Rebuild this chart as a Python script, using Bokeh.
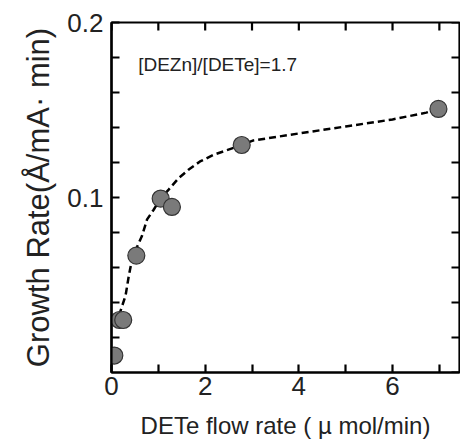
import math
from bokeh.plotting import figure
from bokeh.models import Range1d, FixedTicker, ColumnDataSource
from bokeh.embed import file_html
from bokeh.resources import INLINE

# Data points (DETe flow rate, growth rate)
flow = [0.06, 0.17, 0.25, 0.53, 1.05, 1.29, 2.78, 6.98]
rate = [0.0097, 0.030, 0.030, 0.0668, 0.0994, 0.0946, 0.130, 0.1506]

# Dashed guide curve
curve_x = [0.16, 0.30, 0.37, 0.44, 0.55, 0.65, 0.76, 0.90, 1.05, 1.22, 1.43, 1.65, 1.89, 2.18, 2.46, 2.78, 3.03, 4.0, 5.0, 6.0, 6.72, 6.98]
curve_y = [0.0326, 0.0439, 0.0553, 0.0648, 0.072, 0.078, 0.0875, 0.093, 0.0995, 0.1045, 0.111, 0.116, 0.1206, 0.1244, 0.127, 0.130, 0.1326, 0.1366, 0.1406, 0.1446, 0.1485, 0.1506]

x_labeled = [0, 2, 4, 6]
x_other = [1, 3, 5, 7]
y_labeled = [0.1, 0.2]
y_other = [0.02, 0.04, 0.06, 0.08, 0.12, 0.14, 0.16, 0.18]

note_text = ["[DEZn]/[DETe]=1.7"]
note_x = [0.57]
note_y = [0.176]

X0, X1 = 0, 7.43
Y0, Y1 = 0, 0.2

LW = 2.2

p = figure(width=460, height=441, output_backend="svg", toolbar_location=None,
           x_range=Range1d(X0, X1), y_range=Range1d(Y0, Y1),
           min_border_left=111, min_border_right=1, min_border_top=22, min_border_bottom=10)
p.grid.visible = False
p.outline_line_color = "black"
p.outline_line_width = LW


def style(ax):
    ax.axis_line_color = "black"
    ax.axis_line_width = LW
    ax.major_tick_line_color = "black"
    ax.minor_tick_line_color = "black"
    ax.major_tick_line_width = LW
    ax.minor_tick_line_width = LW
    ax.major_tick_in = 8
    ax.major_tick_out = 0
    ax.minor_tick_in = 8
    ax.minor_tick_out = 0
    ax.major_label_text_font_size = "26px"
    ax.major_label_text_color = "#222222"
    ax.axis_label_text_font_style = "normal"
    ax.axis_label_text_color = "#222222"


xb = p.xaxis[0]
xb.ticker = FixedTicker(ticks=x_labeled, minor_ticks=x_other)
xb.axis_label = "DETe flow rate ( \u00b5 mol/min)"
style(xb)
xb.major_label_standoff = 4
xb.axis_label_text_font_size = "24px"
xb.axis_label_standoff = 14

yl = p.yaxis[0]
yl.ticker = FixedTicker(ticks=y_labeled, minor_ticks=y_other)
yl.axis_label = "Growth Rate(\u00c5/mA\u00b7 min)"
style(yl)
yl.major_label_standoff = 8
yl.axis_label_text_font_size = "31px"
yl.axis_label_standoff = 8

# inward ticks on the top and right edges (dash markers centred on the edge, half clipped)
xt_all = x_labeled + x_other
yt_all = [0.0] + y_labeled + y_other
src_top = ColumnDataSource(dict(x=xt_all, y=[Y1] * len(xt_all)))
src_right = ColumnDataSource(dict(x=[X1] * len(yt_all), y=yt_all))
p.scatter("x", "y", source=src_top, marker="dash", angle=math.pi / 2, size=16,
          line_color="black", line_width=LW)
p.scatter("x", "y", source=src_right, marker="dash", size=16,
          line_color="black", line_width=LW)

src_c = ColumnDataSource(dict(x=curve_x, y=curve_y))
p.line("x", "y", source=src_c, line_color="black", line_width=2.5, line_dash="7 4")

src = ColumnDataSource(dict(x=flow, y=rate))
p.scatter("x", "y", source=src, size=17, fill_color="#7a7a7a", line_color="#333333", line_width=1.2)

src_t = ColumnDataSource(dict(x=note_x, y=note_y, t=note_text))
p.text("x", "y", text="t", source=src_t, text_font_size="19px",
       text_color="#222222", text_align="left", text_baseline="middle")

open("out.html", "w").write(file_html(p, INLINE))
